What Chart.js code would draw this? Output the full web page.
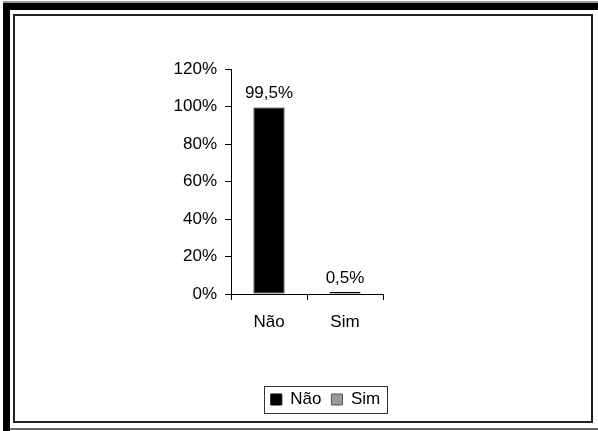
<!DOCTYPE html>
<html>
<head>
    <title>Não / Sim</title>
    <script src="https://cdn.jsdelivr.net/npm/chart.js@4/dist/chart.umd.min.js"></script>
    <style>
        html, body { margin: 0; padding: 0; background: #fff; }
        #chart-container { width: 598px; height: 431px; }
    </style>
</head>
<body>
    <div id="chart-container">
        <canvas id="chart" width="598" height="431"></canvas>
    </div>

    <script>
        // data
        const categories = ['Não', 'Sim'];
        const percentValues = [99.5, 0.5];
        const yAxisMin = 0;
        const yAxisMax = 120;
        const yAxisStep = 20;

        const barColors = ['#000000', '#999999'];
        const fontFamily = '"Liberation Sans", Arial, sans-serif';
        const fontSize = 17;

        function fmtPct(v) {
            return String(v).replace('.', ',') + '%';
        }

        // white background + the two frames around the chart
        const framePlugin = {
            id: 'frame',
            beforeDraw(chart) {
                const ctx = chart.ctx;
                ctx.save();
                ctx.fillStyle = '#fff';
                ctx.fillRect(0, 0, chart.width, chart.height);
                ctx.fillStyle = '#999';
                ctx.fillRect(3, 1, 595, 2);
                ctx.fillStyle = '#000';
                ctx.fillRect(3, 3, 595, 7);
                ctx.fillRect(3, 3, 7, 428);
                ctx.fillStyle = '#666';
                ctx.fillRect(10, 428, 588, 2);
                ctx.strokeStyle = '#222';
                ctx.lineWidth = 2;
                ctx.strokeRect(14, 15, 578, 407);
                ctx.restore();
            }
        };

        // move legend under the middle of the plot and box it
        const legendPlugin = {
            id: 'legendBox',
            afterLayout(chart) {
                const lg = chart.legend;
                const w = lg.right - lg.left;
                lg.left = 325.5 - w / 2;
                lg.right = lg.left + w;
            },
            afterDraw(chart) {
                const hb = chart.legend.legendHitBoxes;
                if (!hb || !hb.length) return;
                const left = Math.min(...hb.map(h => h.left));
                const right = Math.max(...hb.map(h => h.left + h.width));
                const top = hb[0].top;
                const ctx = chart.ctx;
                ctx.save();
                ctx.strokeStyle = '#333';
                ctx.lineWidth = 1;
                ctx.strokeRect(Math.round(left - 7) + 0.5, Math.round(top - 5) + 0.5,
                    Math.round(right - left + 14), 27);
                ctx.restore();
            }
        };

        // value labels over the bars
        const valueLabels = {
            id: 'valueLabels',
            afterDatasetsDraw(chart) {
                const ctx = chart.ctx;
                const meta = chart.getDatasetMeta(0);
                ctx.save();
                ctx.font = fontSize + 'px ' + fontFamily;
                ctx.fillStyle = '#000';
                ctx.textAlign = 'center';
                ctx.textBaseline = 'alphabetic';
                meta.data.forEach((bar, i) => {
                    ctx.fillText(fmtPct(percentValues[i]), bar.x, bar.y - 9);
                });
                ctx.restore();
            }
        };

        const ctx = document.getElementById('chart').getContext('2d');
        new Chart(ctx, {
            type: 'bar',
            data: {
                labels: categories,
                datasets: [{
                    label: 'Respostas',
                    data: percentValues,
                    backgroundColor: barColors,
                    borderColor: '#000',
                    borderWidth: 1,
                    borderSkipped: false,
                    minBarLength: 2,
                    categoryPercentage: 1,
                    barPercentage: 0.41,
                }],
            },
            options: {
                responsive: false,
                animation: false,
                devicePixelRatio: 1,
                layout: {
                    padding: { left: 20, right: 215, top: 69, bottom: 13 }
                },
                plugins: {
                    tooltip: { enabled: false },
                    legend: {
                        position: 'bottom',
                        labels: {
                            color: '#000',
                            font: { family: fontFamily, size: fontSize },
                            boxWidth: 11,
                            boxHeight: 11,
                            padding: 10,
                            generateLabels: () => categories.map((c, i) => ({
                                text: c,
                                fillStyle: barColors[i],
                                strokeStyle: i === 0 ? '#000' : '#555',
                                lineWidth: 1,
                                hidden: false,
                                index: i,
                            })),
                        },
                        onClick: null,
                    },
                },
                scales: {
                    x: {
                        afterFit: (scale) => { scale.height = 87; },
                        grid: {
                            drawOnChartArea: false,
                            drawTicks: true,
                            tickLength: 6,
                            color: '#000',
                            offset: true,
                        },
                        border: { color: '#000', width: 1 },
                        ticks: {
                            color: '#000',
                            padding: 12,
                            font: { family: fontFamily, size: fontSize },
                        },
                    },
                    y: {
                        min: yAxisMin,
                        max: yAxisMax,
                        afterFit: (scale) => { scale.width = 211; },
                        grid: {
                            drawOnChartArea: false,
                            drawTicks: true,
                            tickLength: 6,
                            color: '#000',
                        },
                        border: { color: '#000', width: 1 },
                        ticks: {
                            stepSize: yAxisStep,
                            color: '#000',
                            padding: 8,
                            font: { family: fontFamily, size: fontSize },
                            callback: (v) => v + '%',
                        },
                    },
                },
            },
            plugins: [framePlugin, legendPlugin, valueLabels],
        });
    </script>
</body>
</html>
